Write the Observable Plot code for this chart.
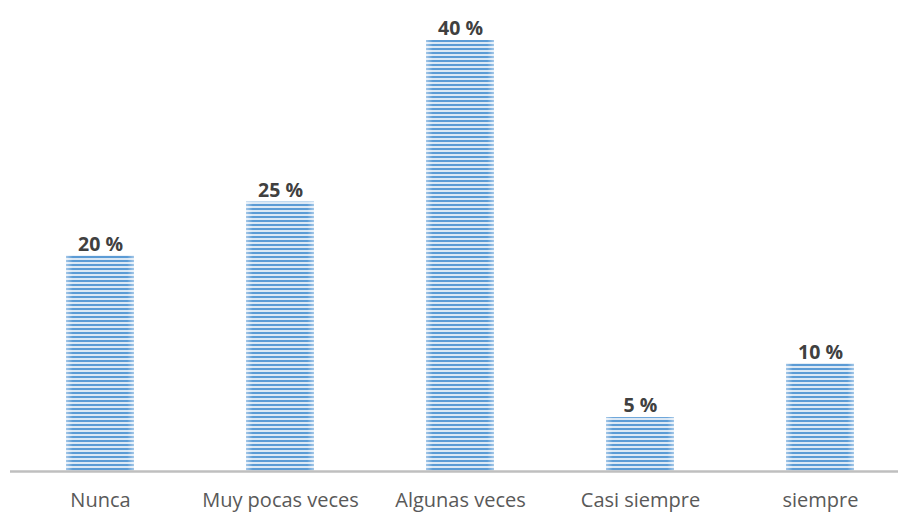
<!DOCTYPE html>
<html>
<head>
<meta charset="utf-8">
<script src="https://cdn.jsdelivr.net/npm/d3@7"></script>
<script src="https://cdn.jsdelivr.net/npm/@observablehq/plot@0.6"></script>
<style>
  html, body { margin: 0; padding: 0; background: #fff; }
  #chart svg { display: block; }
</style>
</head>
<body>
<div id="chart"></div>
<script>
const categories = ["Nunca", "Muy pocas veces", "Algunas veces", "Casi siempre", "siempre"];
const values = [20, 25, 40, 5, 10];
const valueLabels = ["20 %", "25 %", "40 %", "5 %", "10 %"];

const data = categories.map((c, i) => ({ cat: c, v: values[i], label: valueLabels[i] }));

const chart = Plot.plot({
  width: 898,
  height: 514,
  marginLeft: 10,
  marginRight: 0,
  marginTop: 40,
  marginBottom: 43,
  style: { fontFamily: "'Open Sans', sans-serif", background: "#fff" },
  x: { domain: categories, range: [9, 912], paddingInner: 0.62, paddingOuter: 0.31, axis: null },
  y: { domain: [0, 40], axis: null },
  marks: [
    Plot.barY(data, { x: "cat", y: "v", fill: "url(#stripes)" }),
    Plot.barY(data, { x: "cat", y: "v", fill: "url(#edges)" }),
    Plot.ruleY([0], { stroke: "#bfbfbf", strokeWidth: 2.5 }),
    Plot.text(data, { x: "cat", y: "v", text: "label", dy: -11.5, fontSize: 19.5, fontWeight: "bold", fill: "#404040" }),
    Plot.text(data, { x: "cat", y: 0, text: "cat", dy: 29.5, fontSize: 20, fill: "#595959" })
  ]
});

const ns = "http://www.w3.org/2000/svg";
const defs = document.createElementNS(ns, "defs");
defs.innerHTML = `
  <pattern id="stripes" patternUnits="userSpaceOnUse" width="8" height="4">
    <rect x="0" y="0" width="8" height="4" fill="#dbe8f5"/>
    <rect x="0" y="0" width="8" height="2" fill="#5b9bd5"/>
  </pattern>
  <linearGradient id="edges" x1="0" x2="1" y1="0" y2="0">
    <stop offset="0" stop-color="#ffffff" stop-opacity="0.45"/>
    <stop offset="0.1" stop-color="#ffffff" stop-opacity="0"/>
    <stop offset="0.9" stop-color="#ffffff" stop-opacity="0"/>
    <stop offset="1" stop-color="#ffffff" stop-opacity="0.45"/>
  </linearGradient>`;
chart.insertBefore(defs, chart.firstChild);
document.getElementById("chart").appendChild(chart);
</script>
</body>
</html>
